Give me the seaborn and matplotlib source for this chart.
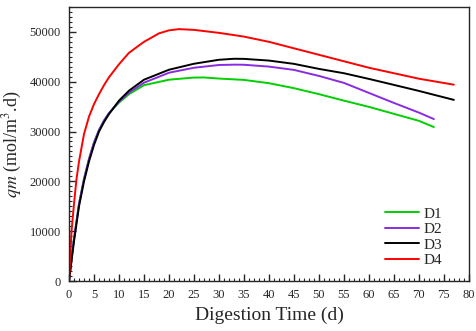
import numpy as np
import pandas as pd
import matplotlib
matplotlib.use('Agg')
import matplotlib.pyplot as plt
from matplotlib.ticker import MultipleLocator
import seaborn as sns

# 读取的曲线数据 (消化时间 d, qm)
t_d1 = [0, 0.5, 1, 2, 3, 4, 5, 6, 7, 8, 10, 12, 15, 20, 25, 27, 30, 35, 40, 45, 50, 55, 60, 65, 70, 73]
qm_d1 = [0, 4500, 8500, 15500, 20500, 24500, 27800, 30300, 32200, 33700, 35800, 37500, 39300, 40400, 40830, 40850,
         40630, 40360, 39700, 38700, 37500, 36200, 34950, 33550, 32150, 30900]

t_d2 = [0, 0.5, 1, 2, 3, 4, 5, 6, 7, 8, 10, 12, 15, 20, 25, 30, 33, 35, 40, 45, 50, 55, 60, 65, 70, 73]
qm_d2 = [0, 4500, 8500, 15500, 20500, 24500, 27800, 30300, 32200, 33700, 36000, 37800, 39800, 41800, 42800, 43350,
         43420, 43400, 43030, 42370, 41160, 39760, 37750, 35740, 33800, 32500]

t_d3 = [0, 0.5, 1, 2, 3, 4, 5, 6, 7, 8, 10, 12, 15, 20, 25, 30, 33, 35, 40, 45, 50, 55, 60, 65, 70, 77]
qm_d3 = [0, 4000, 8000, 15000, 20000, 24000, 27300, 30000, 31900, 33500, 36200, 38200, 40400, 42400, 43600, 44400,
         44600, 44580, 44240, 43580, 42570, 41700, 40560, 39360, 38150, 36350]

t_d4 = [0, 0.5, 1, 1.5, 2, 3, 4, 5, 6, 7, 8, 10, 12, 15, 18, 20, 22, 25, 30, 35, 40, 50, 60, 70, 77]
qm_d4 = [0, 10000, 15500, 20500, 24000, 29500, 33000, 35500, 37500, 39300, 40900, 43500, 45800, 48000, 49700,
         50300, 50550, 50400, 49800, 49050, 48000, 45400, 42800, 40600, 39400]

labels = ['D1', 'D2', 'D3', 'D4']
colors = ['#00d000', '#8a2be2', '#000000', '#ff0000']

frames = []
for lab, t, q in zip(labels, [t_d1, t_d2, t_d3, t_d4], [qm_d1, qm_d2, qm_d3, qm_d4]):
    frames.append(pd.DataFrame({'t': t, 'qm': q, 'group': lab}))
df = pd.concat(frames, ignore_index=True)

sns.set_style('ticks')
plt.rcParams['font.family'] = ['Liberation Serif', 'DejaVu Serif']
plt.rcParams['mathtext.fontset'] = 'stix'

fig = plt.figure(figsize=(4.76, 3.31), dpi=100)
ax = fig.add_axes([0.145, 0.151, 0.84, 0.828])

sns.lineplot(data=df, x='t', y='qm', hue='group', palette=colors, linewidth=1.4, ax=ax)

ax.set_xlim(0, 80)
ax.set_ylim(0, 55000)
ax.xaxis.set_major_locator(MultipleLocator(5))
ax.xaxis.set_minor_locator(MultipleLocator(1))
ax.yaxis.set_major_locator(MultipleLocator(10000))
ax.yaxis.set_minor_locator(MultipleLocator(1000))
ax.tick_params(which='major', direction='in', length=5, width=1, labelsize=9, pad=6)
ax.tick_params(which='minor', direction='in', length=2.5, width=0.8)
for s in ax.spines.values():
    s.set_linewidth(1.0)

ax.set_xlabel('Digestion Time (d)', fontsize=14)
ax.set_ylabel(r'$qm$ (mol/m$^3$.d)', fontsize=13)

leg = ax.legend(title=None, frameon=False, loc='lower right', fontsize=11,
                handlelength=2.2, handletextpad=0.3, labelspacing=0.12,
                bbox_to_anchor=(0.967, 0.0))

fig.savefig('out.png', dpi=100)
